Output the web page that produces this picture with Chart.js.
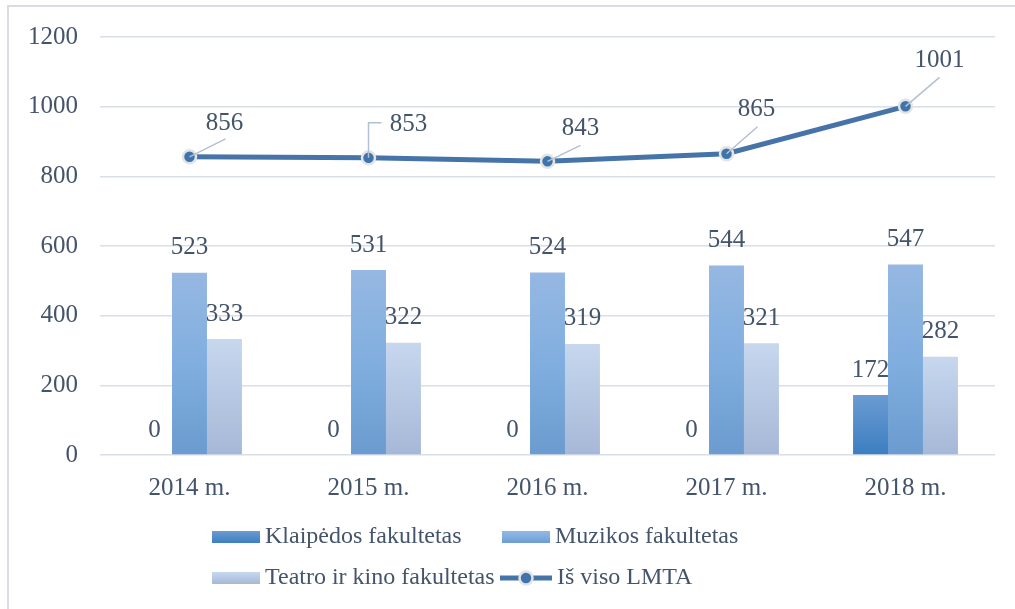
<!DOCTYPE html>
<html>
<head>
<meta charset="utf-8">
<script src="https://cdn.jsdelivr.net/npm/chart.js@4"></script>
<style>
html,body{margin:0;padding:0;background:#fff;}
#wrap{width:1015px;height:609px;position:relative;}
</style>
</head>
<body>
<div id="wrap"><canvas id="c" width="1015" height="609"></canvas></div>
<script>
const categories = ['2014 m.', '2015 m.', '2016 m.', '2017 m.', '2018 m.'];
const seriesNames = ['Klaipėdos fakultetas', 'Muzikos fakultetas', 'Teatro ir kino fakultetas', 'Iš viso LMTA'];
const klaipedos = [0, 0, 0, 0, 172];
const muzikos = [523, 531, 524, 544, 547];
const teatro = [333, 322, 319, 321, 282];
const isViso = [856, 853, 843, 865, 1001];
const yTicks = [0, 200, 400, 600, 800, 1000, 1200];

// styling
const TEXT = '#44546a';
const FONT = 'Liberation Serif';
const gradStops = [
  ['#6b9bd2', '#3c7ec1'],
  ['#96b8e2', '#80aedf', '#6b9bcf'],
  ['#c6d7ee', '#a6b8d7']
];
const lineColor = '#4674a8';
// label offsets for line callouts
const callouts = [
  {lx: 35, ly: -33, path: [[36, -18]]},
  {lx: 40, ly: -33, path: [[0, -35], [13, -35]]},
  {lx: 33, ly: -33, path: [[33, -16]]},
  {lx: 30, ly: -44, path: [[31, -27]]},
  {lx: 34, ly: -46, path: [[34, -29]]}
];

function barGradient(idx) {
  return function(context) {
    const chart = context.chart;
    if (!chart.chartArea || context.type !== 'data') return gradStops[idx][0];
    const ys = chart.scales.y;
    const v = context.raw;
    const top = ys.getPixelForValue(v);
    const bot = ys.getPixelForValue(0);
    if (bot - top < 1) return gradStops[idx][0];
    const g = chart.ctx.createLinearGradient(0, top, 0, bot);
    const s = gradStops[idx];
    s.forEach((c, i) => g.addColorStop(i / (s.length - 1), c));
    return g;
  };
}

const frame = {
  id: 'frame',
  beforeDraw(chart) {
    const ctx = chart.ctx;
    ctx.save();
    ctx.strokeStyle = '#d9dde3';
    ctx.lineWidth = 2;
    ctx.strokeRect(8, 6, 1020, 620);
    ctx.restore();
  }
};

const labels = {
  id: 'valLabels',
  afterDatasetsDraw(chart) {
    const ctx = chart.ctx;
    ctx.save();
    ctx.font = '25px "' + FONT + '"';
    ctx.fillStyle = TEXT;
    ctx.textAlign = 'center';
    ctx.textBaseline = 'middle';
    chart.data.datasets.forEach((ds, di) => {
      const meta = chart.getDatasetMeta(di);
      if (ds.type === 'line') {
        meta.data.forEach((el, i) => {
          const c = callouts[i];
          ctx.strokeStyle = '#b3bfd2';
          ctx.lineWidth = 1.5;
          ctx.beginPath();
          ctx.moveTo(el.x, el.y);
          c.path.forEach(p => ctx.lineTo(el.x + p[0], el.y + p[1]));
          ctx.stroke();
          ctx.fillText(String(ds.data[i]), el.x + c.lx, el.y + c.ly);
        });
      } else {
        meta.data.forEach((el, i) => {
          ctx.fillText(String(ds.data[i]), el.x, el.y - 25);
        });
      }
    });
    ctx.restore();
  }
};

const legendPlugin = {
  id: 'gridLegend',
  afterDraw(chart) {
    const ctx = chart.ctx;
    const pos = [[212, 537], [502, 537], [212, 578], [502, 578]];
    ctx.save();
    ctx.font = '24px "' + FONT + '"';
    ctx.fillStyle = TEXT;
    ctx.textBaseline = 'middle';
    chart.data.datasets.forEach((ds, i) => {
      const [x, y] = pos[i];
      if (ds.type === 'line') {
        ctx.strokeStyle = lineColor;
        ctx.lineWidth = 5;
        ctx.beginPath();
        ctx.moveTo(x - 2, y);
        ctx.lineTo(x + 50, y);
        ctx.stroke();
        ctx.beginPath();
        ctx.arc(x + 24, y, 6.5, 0, Math.PI * 2);
        ctx.fillStyle = '#3e74ab';
        ctx.fill();
        ctx.strokeStyle = '#e3e3e3';
        ctx.lineWidth = 2.5;
        ctx.stroke();
        ctx.fillStyle = TEXT;
        ctx.fillText(ds.label, x + 55, y);
      } else {
        const s = gradStops[i];
        const g = ctx.createLinearGradient(0, y - 6, 0, y + 6);
        s.forEach((c, k) => g.addColorStop(k / (s.length - 1), c));
        ctx.fillStyle = g;
        ctx.fillRect(x, y - 6, 48, 12);
        ctx.fillStyle = TEXT;
        ctx.fillText(ds.label, x + 53, y);
      }
    });
    ctx.restore();
  }
};

new Chart(document.getElementById('c'), {
  type: 'bar',
  data: {
    labels: categories,
    datasets: [
      {label: seriesNames[0], data: klaipedos, backgroundColor: barGradient(0), order: 2},
      {label: seriesNames[1], data: muzikos, backgroundColor: barGradient(1), order: 2},
      {label: seriesNames[2], data: teatro, backgroundColor: barGradient(2), order: 2},
      {label: seriesNames[3], data: isViso, type: 'line', order: 1,
        borderColor: lineColor, borderWidth: 5, pointRadius: 6.5, pointHoverRadius: 6.5,
        pointBackgroundColor: '#3e74ab', pointBorderColor: '#e3e3e3', pointBorderWidth: 2.5,
        tension: 0, fill: false}
    ]
  },
  options: {
    responsive: false,
    animation: false,
    events: [],
    layout: {padding: {top: 33, right: 20, left: 0, bottom: 0}},
    datasets: {bar: {categoryPercentage: 0.586, barPercentage: 1}},
    plugins: {legend: {display: false}, tooltip: {enabled: false}},
    scales: {
      x: {
        grid: {display: false},
        border: {display: false},
        ticks: {color: TEXT, font: {family: FONT, size: 25}, padding: 10, maxRotation: 0},
        afterFit(s) { s.height = 154; }
      },
      y: {
        min: 0, max: 1200,
        afterBuildTicks(s) { s.ticks = yTicks.map(v => ({value: v})); },
        grid: {color: '#d9dee7', lineWidth: 1.5, drawTicks: false},
        border: {display: false},
        ticks: {color: TEXT, font: {family: FONT, size: 25}, padding: 22,
          callback: (v) => String(v)},
        afterFit(s) { s.width = 100; }
      }
    }
  },
  plugins: [frame, labels, legendPlugin]
});
</script>
</body>
</html>
